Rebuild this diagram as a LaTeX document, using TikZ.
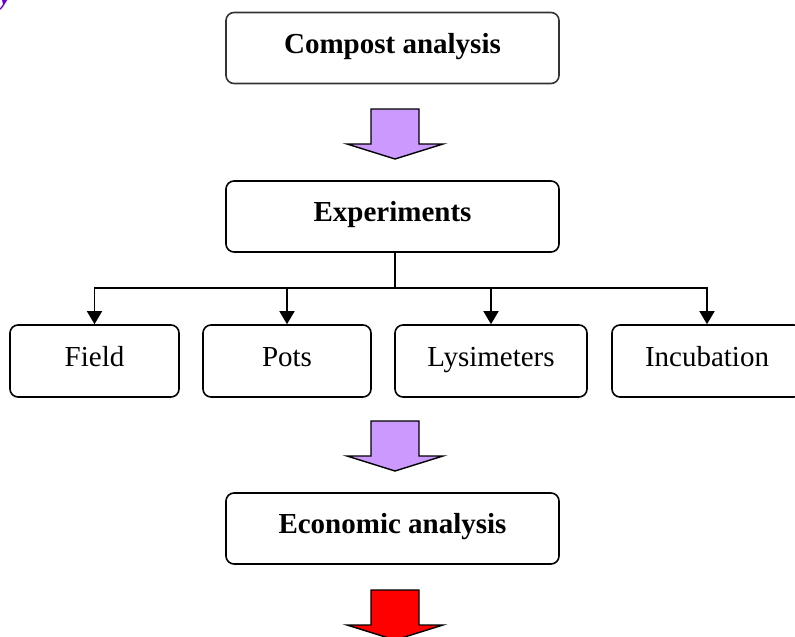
\documentclass[tikz,border=0pt]{standalone}
\usepackage{fontspec}
\setmainfont{Liberation Serif}
\usetikzlibrary{arrows.meta}
\definecolor{lilac}{HTML}{CC99FF}
\definecolor{violetx}{RGB}{102,0,204}
\tikzset{
  box/.style={draw=black, line width=1.6pt, rounded corners=8pt, rectangle, inner sep=0pt,
    font=\fontsize{29}{34}\selectfont, text height=16pt, text depth=6pt, align=center},
  bigbox/.style={box, minimum width=333pt, minimum height=71pt, font=\fontsize{29}{34}\selectfont\bfseries},
  smallbox/.style={box, minimum height=72pt},
  link/.style={draw=black, line width=1.5pt},
  arr/.style={link, -{Triangle[width=15pt,length=13pt]}},
  pics/blockarrow/.style={code={
    \draw[line width=1.4pt, fill=#1, line join=miter]
      (-24,0) -- (24,0) -- (24,35) -- (48,35) -- (0,50) -- (-48,35) -- (-24,35) -- cycle;}}
}
\begin{document}
\begin{tikzpicture}[x=1pt,y=-1pt]
\useasboundingbox (0,0) rectangle (795,637);
\node[anchor=base east, inner sep=0pt, text=violetx, font=\fontsize{29}{34}\selectfont\bfseries\itshape] (hdr) at (12,5) {y};
\node[bigbox, draw=black!80] (comp) at (392.5,48) {Compost analysis};
\node[bigbox] (exp) at (392.5,216.5) {Experiments};
\node[bigbox] (econ) at (392.5,528.5) {Economic analysis};
\node[smallbox, minimum width=169pt] (field) at (94.5,361) {Field};
\node[smallbox, minimum width=168pt] (pots) at (287,361) {Pots};
\node[smallbox, minimum width=192pt] (lys) at (491,361) {Lysimeters};
\node[smallbox, minimum width=190pt] (inc) at (707,361) {Incubation};
\coordinate (j) at (395,288);
\draw[link] (exp.south -| j) -- (j);
\draw[arr] (j) -| (field.north);
\draw[arr] (j) -| (pots.north);
\draw[arr] (j) -| (lys.north);
\draw[arr] (j) -| (inc.north);
\pic at (395,109) {blockarrow=lilac};
\pic at (395,421) {blockarrow=lilac};
\pic at (395,590) {blockarrow=red};
\end{tikzpicture}
\end{document}
